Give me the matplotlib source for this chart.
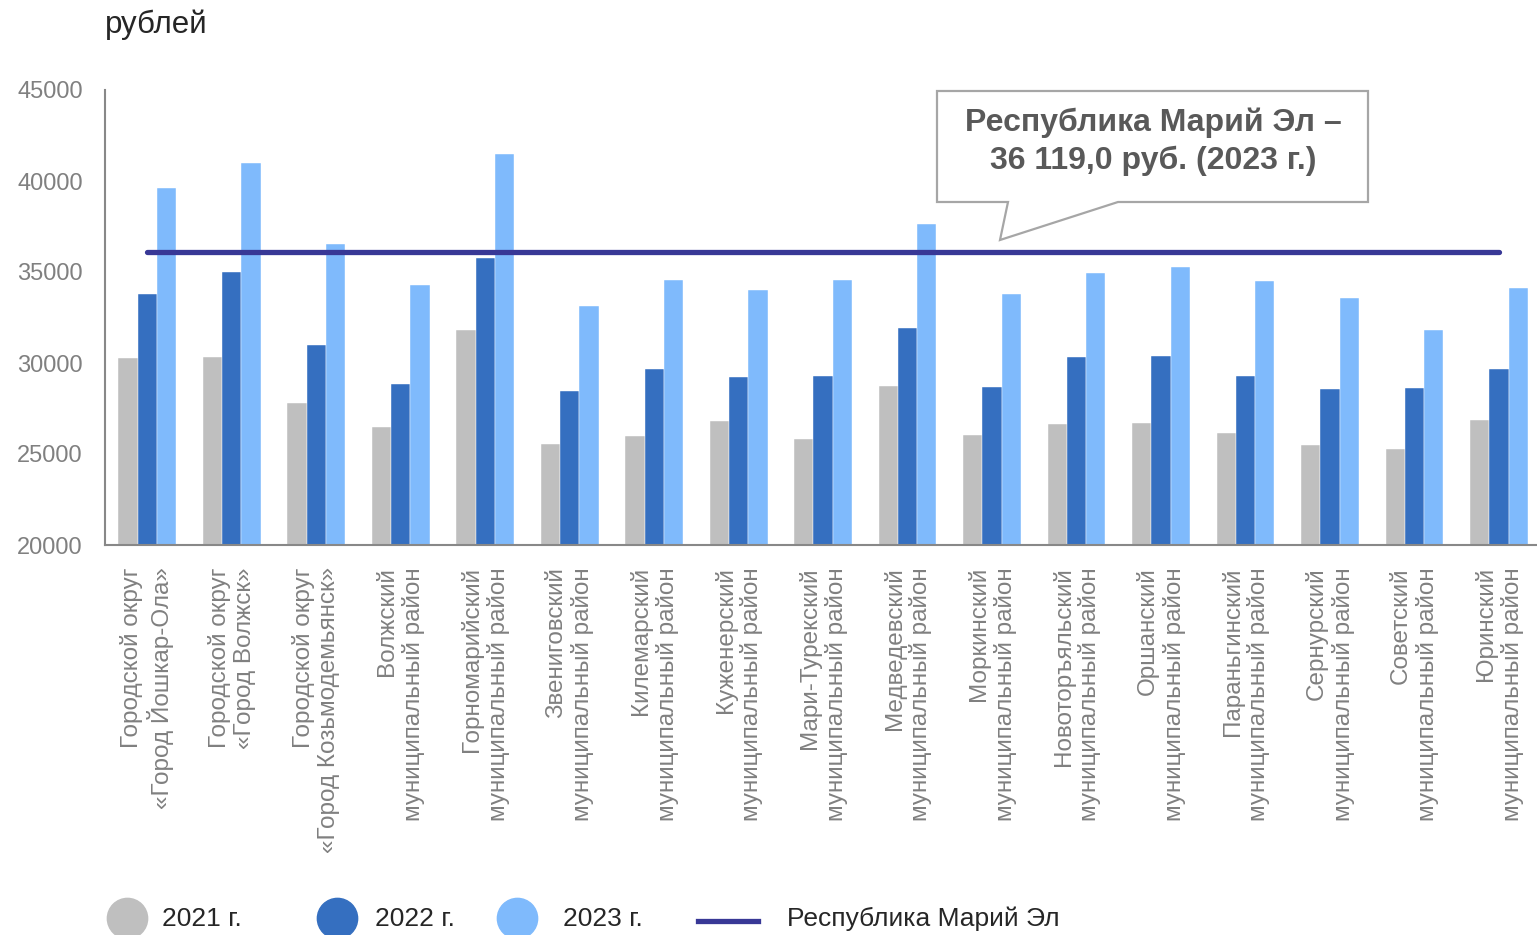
import matplotlib
matplotlib.use("Agg")
import matplotlib.pyplot as plt
import numpy as np
from matplotlib.patches import Polygon

plt.rcParams["font.family"] = ["Liberation Sans", "DejaVu Sans"]

# data
categories = [
    "Городской округ\n«Город Йошкар-Ола»",
    "Городской округ\n«Город Волжск»",
    "Городской округ\n«Город Козьмодемьянск»",
    "Волжский\nмуниципальный район",
    "Горномарийский\nмуниципальный район",
    "Звениговский\nмуниципальный район",
    "Килемарский\nмуниципальный район",
    "Куженерский\nмуниципальный район",
    "Мари-Турекский\nмуниципальный район",
    "Медведевский\nмуниципальный район",
    "Моркинский\nмуниципальный район",
    "Новоторъяльский\nмуниципальный район",
    "Оршанский\nмуниципальный район",
    "Параньгинский\nмуниципальный район",
    "Сернурский\nмуниципальный район",
    "Советский\nмуниципальный район",
    "Юринский\nмуниципальный район",
]
values_2021 = [30260, 30350, 27790, 26470, 31800, 25550, 25970, 26810, 25820,
               28740, 26070, 26630, 26720, 26170, 25510, 25260, 26890]
values_2022 = [33810, 35020, 31010, 28860, 35770, 28450, 29670, 29210, 29270,
               31920, 28660, 30330, 30400, 29270, 28590, 28610, 29650]
values_2023 = [39630, 40970, 36560, 34300, 41500, 33120, 34580, 34030, 34580,
               37640, 33810, 34950, 35280, 34520, 33550, 31810, 34100]
republic_2023 = 36119.0

series_labels = ["2021 г.", "2022 г.", "2023 г."]
line_label = "Республика Марий Эл"
callout_text = "Республика Марий Эл –\n36 119,0 руб. (2023 г.)"
unit_label = "рублей"
yticks = [20000, 25000, 30000, 35000, 40000, 45000]

colors = ["#bfbfbf", "#356fc0", "#7fbafc"]
line_color = "#383896"
W, H = 1537, 935

fig = plt.figure(figsize=(W / 100, H / 100), dpi=100)
ax = fig.add_axes([105 / W, 1 - 545 / H, (W - 105) / W, 455 / H])

x = np.arange(len(categories))
bw = 0.228
for i, vals in enumerate([values_2021, values_2022, values_2023]):
    ax.bar(x + (i - 1) * bw, vals, width=bw, color=colors[i],
           edgecolor="white", linewidth=0.3, zorder=2)

ax.plot([x[0], x[-1]], [republic_2023, republic_2023], color=line_color,
        lw=3.8, solid_capstyle="round", zorder=3)

ax.set_xlim(-0.5, 16.45)
ax.set_ylim(20000, 45000)
ax.set_yticks(yticks)
ax.set_yticklabels([str(v) for v in yticks])
ax.set_xticks(x)
ax.set_xticklabels(categories, rotation=90, multialignment="right",
                   linespacing=1.2)
ax.tick_params(axis="y", length=0, pad=16, labelsize=17, labelcolor="#808080")
ax.tick_params(axis="x", length=0, pad=16, labelsize=17.5, labelcolor="#808080")
for s in ["top", "right"]:
    ax.spines[s].set_visible(False)
for s in ["left", "bottom"]:
    ax.spines[s].set_color("#888888")
    ax.spines[s].set_linewidth(1.5)

# overlay in pixel coordinates for title, callout and legend
ov = fig.add_axes([0, 0, 1, 1], facecolor="none")
ov.set_xlim(0, W)
ov.set_ylim(H, 0)
ov.axis("off")

ov.text(105, 25, unit_label, fontsize=22.5, color="#262626", va="center", ha="left")

callout = Polygon([(937, 91), (1368, 91), (1368, 202), (1118, 202),
                   (1000, 240), (1008, 202), (937, 202)],
                  closed=True, facecolor="white", edgecolor="#a6a6a6", lw=1.6)
ov.add_patch(callout)
ov.text(1153, 142, callout_text, fontsize=23, fontweight="bold",
        color="#595959", ha="center", va="center", linespacing=1.32)

# legend
for cx, tx, col, lab in zip([127, 337, 517], [162, 375, 563], colors, series_labels):
    ov.plot([cx], [918], marker="o", ms=29, color=col, mec=col, clip_on=False)
    ov.text(tx, 919, lab, fontsize=19, color="#262626", va="center", ha="left")
ov.plot([698, 758], [921, 921], color=line_color, lw=3.8)
ov.text(787, 919, line_label, fontsize=19, color="#262626", va="center", ha="left")

fig.savefig("out.png", dpi=100)
plt.close(fig)
